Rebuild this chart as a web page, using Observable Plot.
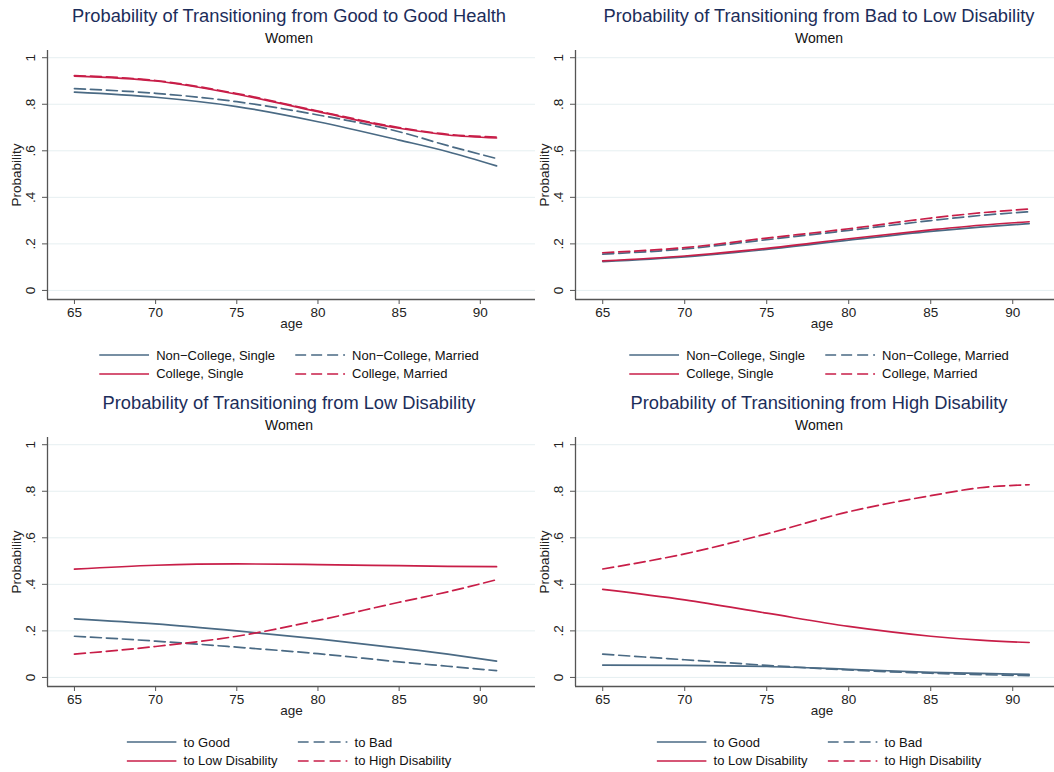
<!DOCTYPE html>
<html>
<head>
<meta charset="utf-8">
<script src="https://cdn.jsdelivr.net/npm/d3@7"></script>
<script src="https://cdn.jsdelivr.net/npm/@observablehq/plot@0.6"></script>
<style>
  html, body { margin: 0; padding: 0; background: #fff; }
  body { width: 1054px; height: 772px; overflow: hidden; position: relative;
         font-family: "Liberation Sans", Arial, Helvetica, sans-serif; }
  .panel { position: absolute; width: 527px; height: 386px; }
  .panel > svg { position: absolute; left: 0; top: 0; overflow: visible; max-width: none !important; }
  .title { position: absolute; top: 6px; font-size: 18.3px; line-height: 20px; color: #1c2d5a;
           white-space: nowrap; transform: translateX(-50%); }
  .subtitle { position: absolute; top: 30px; font-size: 14px; line-height: 16px; color: #111;
              white-space: nowrap; transform: translateX(-50%); }
  .legend { position: absolute; top: 346px; transform: translateX(-50%);
            display: grid; grid-template-columns: auto auto; column-gap: 20px; }
  .legend .item { display: flex; align-items: center; height: 18.5px; font-size: 13px; color: #111; white-space: nowrap; }
  .legend .item svg { margin-right: 7px; }
</style>
</head>
<body>
<script>
// ---- data ----
const ages = [65, 70, 75, 80, 85, 88, 91];

// Panel 1: Good -> Good Health
const ggNonCollegeSingle  = [0.852, 0.830, 0.790, 0.725, 0.646, 0.596, 0.535];
const ggNonCollegeMarried = [0.867, 0.847, 0.811, 0.754, 0.682, 0.622, 0.567];
const ggCollegeSingle     = [0.921, 0.900, 0.843, 0.768, 0.697, 0.668, 0.655];
const ggCollegeMarried    = [0.923, 0.902, 0.846, 0.771, 0.700, 0.671, 0.659];

// Panel 2: Bad -> Low Disability
const blNonCollegeSingle  = [0.124, 0.144, 0.176, 0.216, 0.254, 0.272, 0.287];
const blNonCollegeMarried = [0.156, 0.178, 0.218, 0.258, 0.300, 0.322, 0.338];
const blCollegeSingle     = [0.127, 0.148, 0.181, 0.222, 0.260, 0.280, 0.295];
const blCollegeMarried    = [0.162, 0.184, 0.225, 0.265, 0.311, 0.333, 0.350];

// Panel 3: from Low Disability
const ldToGood = [0.252, 0.230, 0.200, 0.166, 0.126, 0.100, 0.070];
const ldToBad  = [0.177, 0.156, 0.130, 0.102, 0.067, 0.048, 0.029];
const ldToLow  = [0.465, 0.482, 0.488, 0.485, 0.480, 0.477, 0.476];
const ldToHigh = [0.100, 0.133, 0.177, 0.245, 0.323, 0.368, 0.420];

// Panel 4: from High Disability
const hdToGood = [0.053, 0.052, 0.047, 0.035, 0.022, 0.017, 0.013];
const hdToBad  = [0.100, 0.076, 0.052, 0.032, 0.018, 0.012, 0.008];
const hdToLow  = [0.378, 0.333, 0.276, 0.219, 0.177, 0.160, 0.150];
const hdToHigh = [0.466, 0.531, 0.617, 0.712, 0.781, 0.815, 0.828];

const legendLabelsA = ["Non\u2212College, Single", "Non\u2212College, Married", "College, Single", "College, Married"];
const legendLabelsB = ["to Good", "to Bad", "to Low Disability", "to High Disability"];
const titles = [
  "Probability of Transitioning from Good to Good Health",
  "Probability of Transitioning from Bad to Low Disability",
  "Probability of Transitioning from Low Disability",
  "Probability of Transitioning from High Disability"
];
const subtitle = "Women";
const yTicks = [0, 0.2, 0.4, 0.6, 0.8, 1];
const xTicks = [65, 70, 75, 80, 85, 90];
const xLabel = "age";
const yLabel = "Probability";

// ---- styles ----
const blue = "#4a6a84";
const red = "#c81e48";
const axisColor = "#555555";
const gridColor = "#e6eff1";
const seriesStyle = [
  {stroke: blue, dash: null},
  {stroke: blue, dash: "11,5"},
  {stroke: red, dash: null},
  {stroke: red, dash: "11,5"}
];
const xDomain = [63.34, 93.4];
const yDomain = [-0.039, 1.031];

const fmtY = d => d === 0 ? "0" : d === 1 ? "1" : String(d).replace(/^0\./, ".");

const panels = [
  {left: 0,   top: 0,   ml: 47, labels: legendLabelsA, series: [ggNonCollegeSingle, ggNonCollegeMarried, ggCollegeSingle, ggCollegeMarried], center: 289},
  {left: 527, top: 0,   ml: 48, labels: legendLabelsA, series: [blNonCollegeSingle, blNonCollegeMarried, blCollegeSingle, blCollegeMarried], center: 292},
  {left: 0,   top: 387, ml: 47, labels: legendLabelsB, series: [ldToGood, ldToBad, ldToLow, ldToHigh], center: 289},
  {left: 527, top: 387, ml: 48, labels: legendLabelsB, series: [hdToGood, hdToBad, hdToLow, hdToHigh], center: 292}
];

panels.forEach((p, pi) => {
  const div = document.createElement("div");
  div.className = "panel";
  div.style.left = p.left + "px";
  div.style.top = p.top + "px";
  document.body.appendChild(div);

  const width = p.ml === 47 ? 540 : 546;
  const lineMarks = p.series.map((vals, si) => {
    const rows = ages.map((a, i) => ({age: a, value: vals[i]}));
    const st = seriesStyle[si];
    const opts = {x: "age", y: "value", stroke: st.stroke, strokeWidth: 1.7, curve: "monotone-x"};
    if (st.dash) opts.strokeDasharray = st.dash;
    return Plot.line(rows, opts);
  });

  const plot = Plot.plot({
    width, height: 340,
    marginLeft: p.ml, marginRight: 5, marginTop: 50, marginBottom: 41,
    x: {domain: xDomain},
    y: {domain: yDomain},
    style: {background: "transparent", fontFamily: '"Liberation Sans", Arial, sans-serif', fontSize: "13.5px", color: "#222", overflow: "visible", maxWidth: "none"},
    marks: [
      Plot.gridY(yTicks, {stroke: gridColor, strokeOpacity: 1, strokeWidth: 1}),
      Plot.ruleX([xDomain[0]], {stroke: axisColor, strokeWidth: 1.3}),
      Plot.ruleY([yDomain[0]], {stroke: axisColor, strokeWidth: 1.3}),
      Plot.axisY({ticks: yTicks, tickSize: 5, tickFormat: () => "", label: null, stroke: axisColor}),
      Plot.text(yTicks, {y: d => d, text: fmtY, frameAnchor: "left", textAnchor: "middle", dx: -17, rotate: -90, fontSize: 13.5, fill: "#222"}),
      Plot.text([yLabel], {text: d => d, frameAnchor: "left", textAnchor: "middle", dx: -31, rotate: -90, fontSize: 13.5, fill: "#222"}),
      Plot.axisX({ticks: xTicks, tickSize: 5, tickPadding: 3, label: null, stroke: axisColor, fontSize: 13.5, fill: "#222"}),
      Plot.text([xLabel], {text: d => d, frameAnchor: "bottom", dy: 28, fontSize: 13.5, fill: "#222"}),
      ...lineMarks
    ]
  });
  plot.style.maxWidth = "none";
  div.appendChild(plot);

  const t = document.createElement("div");
  t.className = "title";
  t.style.left = p.center + "px";
  t.textContent = titles[pi];
  div.appendChild(t);

  const s = document.createElement("div");
  s.className = "subtitle";
  s.style.left = p.center + "px";
  s.textContent = subtitle;
  div.appendChild(s);

  const lg = document.createElement("div");
  lg.className = "legend";
  lg.style.left = p.center + "px";
  p.labels.forEach((lab, li) => {
    const st = seriesStyle[li];
    const item = document.createElement("div");
    item.className = "item";
    item.innerHTML = `<svg width="50" height="4"><line x1="0" y1="2" x2="50" y2="2" stroke="${st.stroke}" stroke-width="1.7"${st.dash ? ` stroke-dasharray="${st.dash}"` : ""}/></svg><span>${lab}</span>`;
    lg.appendChild(item);
  });
  div.appendChild(lg);
});
</script>
</body>
</html>
